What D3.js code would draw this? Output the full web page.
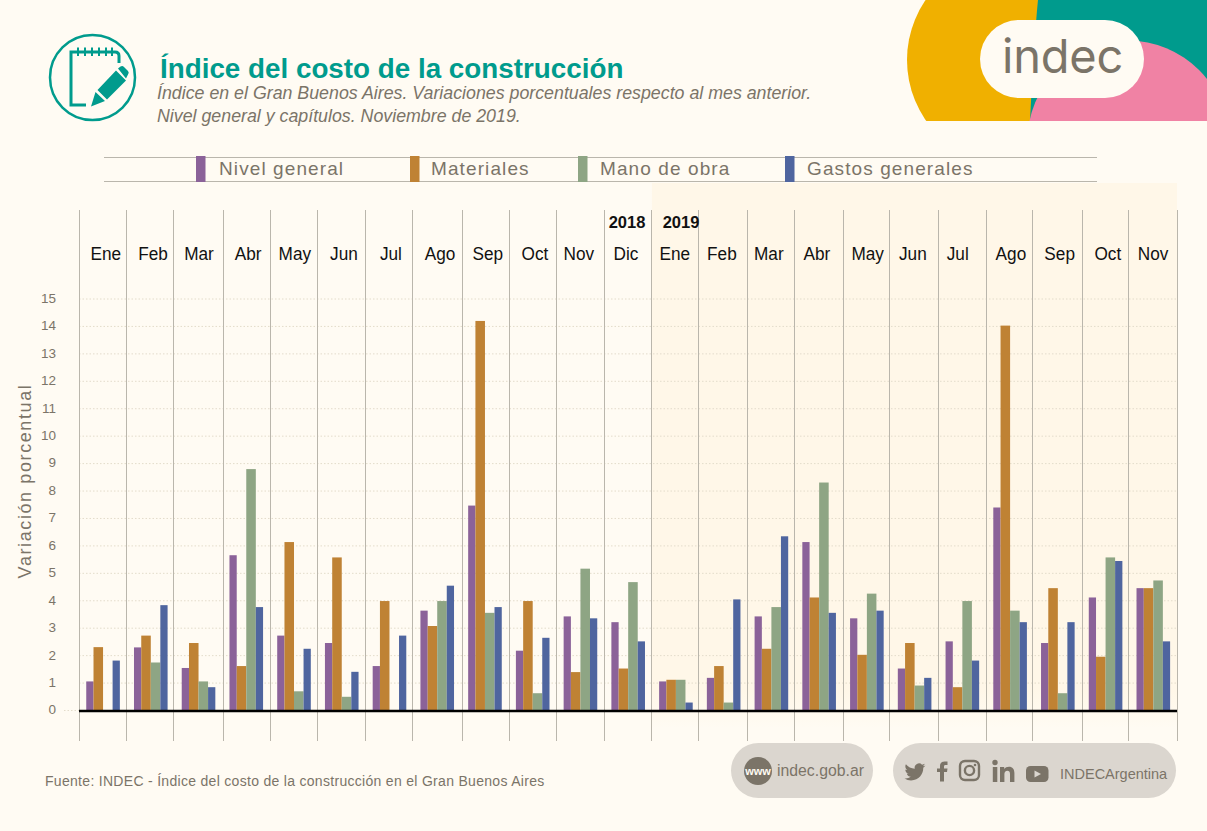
<!DOCTYPE html>
<html><head><meta charset="utf-8">
<script src="https://cdn.jsdelivr.net/npm/d3@7"></script>
<style>
html,body{margin:0;padding:0;background:#fffbf3;overflow:hidden}
svg{display:block}
text{font-family:"Liberation Sans",Arial,sans-serif}
</style></head><body>
<svg id="c" width="1207" height="831"></svg>
<script>
const months=["Ene","Feb","Mar","Abr","May","Jun","Jul","Ago","Sep","Oct","Nov","Dic","Ene","Feb","Mar","Abr","May","Jun","Jul","Ago","Sep","Oct","Nov"];
const seriesNames=["Nivel general","Materiales","Mano de obra","Gastos generales"];
const nivelGeneral=[1.06,2.3,1.55,5.66,2.73,2.46,1.62,3.64,7.47,2.18,3.43,3.22,1.06,1.19,3.43,6.14,3.36,1.53,2.52,7.4,2.46,4.12,4.46];
const materiales=[2.31,2.73,2.46,1.62,6.14,5.58,3.99,3.08,14.2,3.99,1.4,1.53,1.12,1.62,2.25,4.12,2.03,2.46,.85,14.03,4.46,1.96,4.46];
const manoDeObra=[0,1.75,1.06,8.8,.7,.5,0,3.99,3.56,.63,5.17,4.68,1.12,.29,3.77,8.31,4.26,.91,3.99,3.64,.63,5.58,4.74];
const gastosGenerales=[1.82,3.84,.85,3.77,2.25,1.41,2.73,4.55,3.77,2.65,3.36,2.52,.29,4.05,6.35,3.56,3.64,1.19,1.82,3.22,3.22,5.45,2.52];
const yTicks=d3.range(0,16);
const seriesValues=[nivelGeneral,materiales,manoDeObra,gastosGenerales];
const seriesColors=["#8b6299","#bf8234","#8ea584","#4f659f"];
const seriesWeights=[7.3,9.6,9.6,7.3];
const labelNudge=[3,2.4,.6,2,1,2.4,1.6,3,3,2.4,-1.4,-2,-1,-1.6,-2.4,-2,1,-1.6,-4.4,1,2,2.4,0];
const dividerNudge=[-.5,-.3,-1.2,.5,-.3,-1,-.1,-.9,.8,0,-.7,.2,-.6,-1.3,0,-.8,.5,-1.3,0,.2,-1.5,.8,-1.6,.3];
const legendSwatchX=[196,410,578,785], legendTextX=[219,431,600,807];

const TEAL="#009b8d",GREY="#7b7468",BG="#fffbf3",PILL="#dbd6cf",LINE="#bab6ac";
const svg=d3.select("#c");
const keys=months.map((m,i)=>i);
const x=d3.scaleBand().domain(keys).range([79,1177]);
const y=d3.scaleLinear().domain([0,15]).range([710.5,299]);
const weightSum=d3.sum(seriesWeights), starts=[0,...d3.cumsum(seriesWeights)];
const inner=d3.scaleLinear().domain([0,weightSum]).range([7.25,7.25+33.6]);

svg.append("rect").attr("width",1207).attr("height",831).attr("fill",BG);
// header shapes
const defs=svg.append("defs");
defs.append("clipPath").attr("id","hc").append("rect").attr("x",850).attr("y",0).attr("width",357).attr("height",121);
const grad=defs.append("linearGradient").attr("id","sh").attr("x1",0).attr("x2",0).attr("y1",0).attr("y2",1);
[[0,1],[.93,1],[1,0]].forEach(s=>grad.append("stop").attr("offset",s[0]).attr("stop-color","#fff7e8").attr("stop-opacity",s[1]));
const hd=svg.append("g").attr("clip-path","url(#hc)");
hd.append("circle").attr("cx",1013).attr("cy",60).attr("r",106).attr("fill","#f0b000");
hd.append("path").attr("d","M1038,0 Q1034,40 1030,121 L1207,121 L1207,0 Z").attr("fill",TEAL);
hd.append("circle").attr("cx",1128).attr("cy",141).attr("r",100.5).attr("fill","#f082a4");
svg.append("rect").attr("x",980).attr("y",20).attr("width",164).attr("height",78).attr("rx",39).attr("fill",BG);
svg.append("text").attr("x",1002).attr("y",73).attr("font-size",47).attr("letter-spacing",-.2).attr("fill",GREY).style("font-family","Inter").text("indec");

// icon
const ic=svg.append("g").attr("fill","none").attr("stroke",TEAL).attr("stroke-width",3);
ic.append("circle").attr("cx",92.5).attr("cy",77.5).attr("r",42.5).attr("stroke-width",2.5);
ic.append("path").attr("d","M86,105 H71 V52 H115 Q119,52 119,56 V63");
[78,85,92,99,106,112].forEach(px=>ic.append("path").attr("d",`M${px},47.5 V56`).attr("stroke-width",2));
svg.append("path").attr("fill",TEAL).attr("d","M91,106.5 L95.5,92 L105,101 Z M97.5,90 L116,70.5 L126,80.5 L107,99.5 Z M118,68.5 L120.5,66.5 Q122.5,65.5 124,67 L128,71 Q129.5,72.5 128,74.5 L126,78.5 Z");

// title
svg.append("text").attr("x",160).attr("y",78).attr("font-size",27.8).attr("font-weight",700).attr("fill",TEAL).text("Índice del costo de la construcción");
svg.append("text").attr("x",157).attr("y",99).attr("font-size",17.8).attr("font-style","italic").attr("fill",GREY).text("Índice en el Gran Buenos Aires. Variaciones porcentuales respecto al mes anterior.");
svg.append("text").attr("x",157).attr("y",122).attr("font-size",17.8).attr("font-style","italic").attr("fill",GREY).text("Nivel general y capítulos. Noviembre de 2019.");

// legend
[157.5,181.5].forEach(py=>svg.append("line").attr("x1",104).attr("x2",1097).attr("y1",py).attr("y2",py).attr("stroke",LINE));
seriesNames.forEach((n,i)=>{
  svg.append("rect").attr("x",legendSwatchX[i]).attr("y",156).attr("width",9.5).attr("height",26).attr("fill",seriesColors[i]);
  svg.append("text").attr("x",legendTextX[i]).attr("y",175).attr("font-size",19).attr("letter-spacing",1.1).attr("fill",GREY).text(n);
});

// 2019 shade
svg.append("rect").attr("x",x(12)).attr("y",183).attr("width",1177-x(12)).attr("height",545).attr("fill","url(#sh)");

// horizontal dotted grid + y tick labels (axis)
const yAxis=d3.axisLeft(y).tickValues(yTicks).tickSize(0).tickPadding(23).tickFormat(d3.format("d"));
const yg=svg.append("g").attr("transform","translate(79,0)").call(yAxis);
yg.select(".domain").remove();
yg.selectAll("text").attr("font-size",13.5).attr("dy",".25em").attr("fill",GREY).style("font-family","Liberation Sans");
svg.append("g").selectAll("line").data(yTicks).join("line")
  .attr("x1",d=>d===0?64:79).attr("x2",1177).attr("y1",d=>y(d)).attr("y2",d=>y(d))
  .attr("stroke","#e3dccb").attr("stroke-width",1).attr("stroke-dasharray","1.5 2");

// vertical dividers
svg.append("g").selectAll("line").data([...keys.map(k=>x(k)),1177]).join("line")
  .attr("x1",(d,i)=>Math.round(d+dividerNudge[i])+.5).attr("x2",(d,i)=>Math.round(d+dividerNudge[i])+.5)
  .attr("y1",210).attr("y2",741).attr("stroke",LINE).attr("stroke-width",1);

// month labels
svg.append("g").selectAll("text").data(months).join("text")
  .attr("transform",(d,i)=>`translate(${x(i)+x.bandwidth()/2+labelNudge[i]},260) scale(.93,1)`).attr("text-anchor","middle")
  .attr("font-size",18.5).attr("fill","#111").text(d=>d);
[["2018",627],["2019",681]].forEach(t=>svg.append("text").attr("x",t[1]).attr("y",228).attr("text-anchor","middle").attr("font-size",16.5).attr("font-weight",700).attr("fill","#111").text(t[0]));

// bars
seriesValues.forEach((vals,s)=>{
  svg.append("g").attr("fill",seriesColors[s]).selectAll("rect").data(vals).join("rect")
    .attr("x",(d,i)=>x(i)+inner(starts[s]))
    .attr("width",inner(seriesWeights[s])-inner(0))
    .attr("y",d=>y(d)).attr("height",d=>y(0)-y(d));
});
svg.append("line").attr("x1",79).attr("x2",1177).attr("y1",711).attr("y2",711).attr("stroke","#000").attr("stroke-width",2.4);

// axis title
svg.append("text").attr("transform","translate(31,481) rotate(-90)").attr("text-anchor","middle").attr("font-size",18).attr("letter-spacing",1.6).attr("fill",GREY).text("Variación porcentual");

// footer
svg.append("text").attr("x",45).attr("y",786).attr("font-size",14).attr("letter-spacing",.3).attr("fill",GREY).text("Fuente: INDEC - Índice del costo de la construcción en el Gran Buenos Aires");
svg.append("rect").attr("x",731).attr("y",743).attr("width",142).attr("height",55).attr("rx",27.5).attr("fill",PILL);
svg.append("rect").attr("x",893).attr("y",743).attr("width",283).attr("height",55).attr("rx",27.5).attr("fill",PILL);
svg.append("circle").attr("cx",758).attr("cy",771).attr("r",14).attr("fill",GREY);
svg.append("text").attr("x",758).attr("y",775).attr("text-anchor","middle").attr("font-size",11).attr("font-weight",700).attr("fill",BG).text("www");
svg.append("text").attr("x",777).attr("y",776).attr("font-size",15.8).attr("fill",GREY).text("indec.gob.ar");
svg.append("text").attr("x",1060).attr("y",779).attr("font-size",14.5).attr("fill",GREY).text("INDECArgentina");
svg.append("path").attr("transform","translate(904.5,761.5) scale(.87)").attr("fill",GREY).attr("d","M23.953 4.57a10 10 0 01-2.825.775 4.958 4.958 0 002.163-2.723c-.951.555-2.005.959-3.127 1.184a4.92 4.92 0 00-8.384 4.482C7.69 8.095 4.067 6.13 1.64 3.162a4.822 4.822 0 00-.666 2.475c0 1.71.87 3.213 2.188 4.096a4.904 4.904 0 01-2.228-.616v.06a4.923 4.923 0 003.946 4.827 4.996 4.996 0 01-2.212.085 4.936 4.936 0 004.604 3.417 9.867 9.867 0 01-6.102 2.105c-.39 0-.779-.023-1.17-.067a13.995 13.995 0 007.557 2.209c9.053 0 13.998-7.496 13.998-13.985 0-.21 0-.42-.015-.63A9.935 9.935 0 0024 4.59z");
svg.append("path").attr("transform","translate(934,761)").attr("fill",GREY).attr("d","M6,20.5 V11 H3 V7.5 H6 V5 C6,2 8,0.5 10.5,0.5 H13.5 V4 H11.5 C10.5,4 10,4.5 10,5.5 V7.5 H13.5 L13,11 H10 V20.5 Z");
const ig=svg.append("g").attr("fill","none").attr("stroke",GREY).attr("stroke-width",2.4);
ig.append("rect").attr("x",960).attr("y",761).attr("width",19).attr("height",19).attr("rx",5);
ig.append("circle").attr("cx",969.5).attr("cy",770.5).attr("r",4.6);
svg.append("circle").attr("cx",975).attr("cy",765).attr("r",1.3).attr("fill",GREY);
svg.append("circle").attr("cx",995).attr("cy",762.5).attr("r",2.7).attr("fill",GREY);
svg.append("rect").attr("x",992.8).attr("y",767).attr("width",4.5).attr("height",15).attr("fill",GREY);
svg.append("path").attr("fill",GREY).attr("d","M1000,767 H1004.2 V769 C1005.2,767.5 1007,766.7 1009,766.7 C1012.5,766.7 1014.4,769 1014.4,773 V782 H1010 V774 C1010,771.8 1009,770.7 1007.3,770.7 C1005.5,770.7 1004.4,772 1004.4,774 V782 H1000 Z");
svg.append("rect").attr("x",1026).attr("y",766).attr("width",22.5).attr("height",16).attr("rx",4.5).attr("fill",GREY);
svg.append("path").attr("d","M1034.5,770.5 L1041,774 L1034.5,777.5 Z").attr("fill",PILL);
</script></body></html>
